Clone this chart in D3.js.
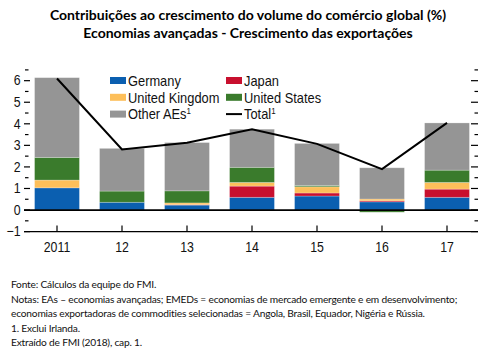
<!DOCTYPE html>
<html>
<head>
<meta charset="utf-8">
<script src="https://cdn.jsdelivr.net/npm/d3@7"></script>
<style>
  body { margin: 0; background: #fff; }
  svg { display: block; }
  .ax text, .lg text { font-family: "Liberation Sans", Arial, sans-serif; }
</style>
</head>
<body>
<div id="chart"></div>
<script>
// Contributions to growth of world trade volume - advanced economies exports
const years = ["2011", "12", "13", "14", "15", "16", "17"];
const germany = [1.03, 0.36, 0.23, 0.59, 0.65, 0.38, 0.59];
const japan = [0.00, 0.00, 0.02, 0.52, 0.14, 0.05, 0.38];
const uk = [0.36, 0.00, 0.08, 0.17, 0.29, 0.08, 0.31];
const us = [1.05, 0.52, 0.56, 0.70, 0.06, -0.10, 0.57];
const otherAEs = [3.70, 1.98, 2.24, 1.77, 1.95, 1.45, 2.19];
const total = [6.10, 2.81, 3.12, 3.75, 3.07, 1.90, 4.04];
const yTicks = [-1, 0, 1, 2, 3, 4, 5, 6];

const titleLines = [
  "Contribuições ao crescimento do volume do comércio global (%)",
  "Economias avançadas - Crescimento das exportações"
];
const notes = [
  "Fonte: Cálculos da equipe do FMI.",
  "Notas: EAs – economias avançadas; EMEDs = economias de mercado emergente e em desenvolvimento;",
  "economias exportadoras de commodities selecionadas = Angola, Brasil, Equador, Nigéria e Rússia.",
  "1. Exclui Irlanda.",
  "Extraído de FMI (2018), cap. 1."
];

const series = [
  {key: "Germany", values: germany, color: "#0b5fb0"},
  {key: "Japan", values: japan, color: "#c8102e"},
  {key: "United Kingdom", values: uk, color: "#fdbf5a"},
  {key: "United States", values: us, color: "#3a7b2c"},
  {key: "Other AEs", values: otherAEs, color: "#959595"}
];

const W = 493, H = 352;
const svg = d3.select("#chart").append("svg").attr("width", W).attr("height", H);

// title
svg.append("g").selectAll("text").data(titleLines).join("text")
  .attr("x", 248).attr("y", (d, i) => 20 + i * 18)
  .attr("text-anchor", "middle")
  .style("font-family", "Lato, 'Open Sans', sans-serif")
  .style("font-weight", "bold").style("font-size", "14px")
  .text(d => d);

const x = d3.scaleBand().domain(years).range([24.5, 479.5])
  .paddingInner(0.31).paddingOuter(0.155);
const y = d3.scaleLinear().domain([-1, 6.5]).range([231.6, 69.9]);

const table = years.map((yr, i) => {
  const row = {year: yr};
  series.forEach(s => row[s.key] = s.values[i]);
  return row;
});
const stacked = d3.stack().keys(series.map(s => s.key))
  .offset(d3.stackOffsetDiverging)(table);

// bars
svg.append("g").selectAll("g").data(stacked).join("g")
  .attr("fill", (d, i) => series[i].color)
  .selectAll("rect").data(d => d).join("rect")
  .attr("x", d => x(d.data.year))
  .attr("width", x.bandwidth())
  .attr("y", d => y(Math.max(d[0], d[1])))
  .attr("height", d => Math.abs(y(d[0]) - y(d[1])))
  .attr("stroke", "rgba(255,255,255,0.3)").attr("stroke-width", 0.8);

// narrow look: squeeze text horizontally
const SX = 0.88;

// left ticks with labels, unlabeled ticks on the right
const ax = svg.append("g").attr("class", "ax");
const minor = d3.range(-0.5, 6.6, 1);
ax.selectAll(".lmaj").data(yTicks).join("line").attr("class", "lmaj")
  .attr("x1", 24).attr("x2", 30).attr("y1", d => y(d)).attr("y2", d => y(d))
  .attr("stroke", "#000").attr("stroke-width", 1.2);
ax.selectAll(".lmin").data(minor).join("line").attr("class", "lmin")
  .attr("x1", 25).attr("x2", 28.5).attr("y1", d => y(d)).attr("y2", d => y(d))
  .attr("stroke", "#000").attr("stroke-width", 1.2);
ax.selectAll(".rmaj").data(yTicks).join("line").attr("class", "rmaj")
  .attr("x1", 471).attr("x2", 478).attr("y1", d => y(d)).attr("y2", d => y(d))
  .attr("stroke", "#000").attr("stroke-width", 1.2);
ax.selectAll(".rmin").data(minor).join("line").attr("class", "rmin")
  .attr("x1", 474.5).attr("x2", 478).attr("y1", d => y(d)).attr("y2", d => y(d))
  .attr("stroke", "#000").attr("stroke-width", 1.2);
ax.selectAll(".ylab").data(yTicks).join("text").attr("class", "ylab")
  .attr("transform", d => `translate(20.5,${y(d) + 4.8}) scale(${SX},1)`)
  .attr("text-anchor", "end").style("font-size", "14px").attr("fill", "#111")
  .text(d => d < 0 ? "\u2212" + Math.abs(d) : d);

// zero line and bottom axis
svg.append("line").attr("x1", 24).attr("x2", 478).attr("y1", y(0)).attr("y2", y(0))
  .attr("stroke", "#000").attr("stroke-width", 1.8);
svg.append("line").attr("x1", 24).attr("x2", 478).attr("y1", y(-1)).attr("y2", y(-1))
  .attr("stroke", "#000").attr("stroke-width", 1.4);
const xc = d => x(d) + x.bandwidth() / 2;
ax.selectAll(".xt").data(years).join("line").attr("class", "xt")
  .attr("x1", xc).attr("x2", xc).attr("y1", y(-1)).attr("y2", y(-1) - 6)
  .attr("stroke", "#000").attr("stroke-width", 1.2);
ax.selectAll(".xlab").data(years).join("text").attr("class", "xlab")
  .attr("transform", d => `translate(${xc(d)},251.5) scale(${SX},1)`)
  .attr("text-anchor", "middle").style("font-size", "14px").attr("fill", "#111")
  .text(d => d);

// total line
svg.append("path").datum(total)
  .attr("fill", "none").attr("stroke", "#000").attr("stroke-width", 2)
  .attr("d", d3.line().x((d, i) => xc(years[i])).y(d => y(d)));

// legend
const legendItems = [
  {label: "Germany", color: series[0].color, sup: ""},
  {label: "Japan", color: series[1].color, sup: ""},
  {label: "United Kingdom", color: series[2].color, sup: ""},
  {label: "United States", color: series[3].color, sup: ""},
  {label: "Other AEs", color: series[4].color, sup: "1"},
  {label: "Total", color: null, sup: "1"}
];
const lg = svg.append("g").attr("class", "lg");
const li = lg.selectAll("g").data(legendItems).join("g")
  .attr("transform", (d, i) => `translate(${i % 2 ? 226 : 110},${80.5 + Math.floor(i / 2) * 16.8})`);
li.filter(d => d.color).append("rect")
  .attr("x", 0).attr("y", -3.5).attr("width", 16).attr("height", 7).attr("fill", d => d.color);
li.filter(d => !d.color).append("line")
  .attr("x1", 0).attr("x2", 16).attr("y1", 0).attr("y2", 0)
  .attr("stroke", "#000").attr("stroke-width", 2);
const lt = li.append("text").attr("transform", `translate(18,5.2) scale(${SX},1)`)
  .style("font-size", "14.6px").attr("fill", "#111");
lt.append("tspan").text(d => d.label);
lt.append("tspan").attr("dy", -5.5).style("font-size", "9px").text(d => d.sup);

// notes
svg.append("g").selectAll("text").data(notes).join("text")
  .attr("x", 11).attr("y", (d, i) => 288 + i * 14.6)
  .style("font-family", "Lato, 'Open Sans', sans-serif").style("font-size", "10.2px")
  .style("letter-spacing", "-0.2px")
  .attr("fill", "#111")
  .text(d => d);
</script>
</body>
</html>
